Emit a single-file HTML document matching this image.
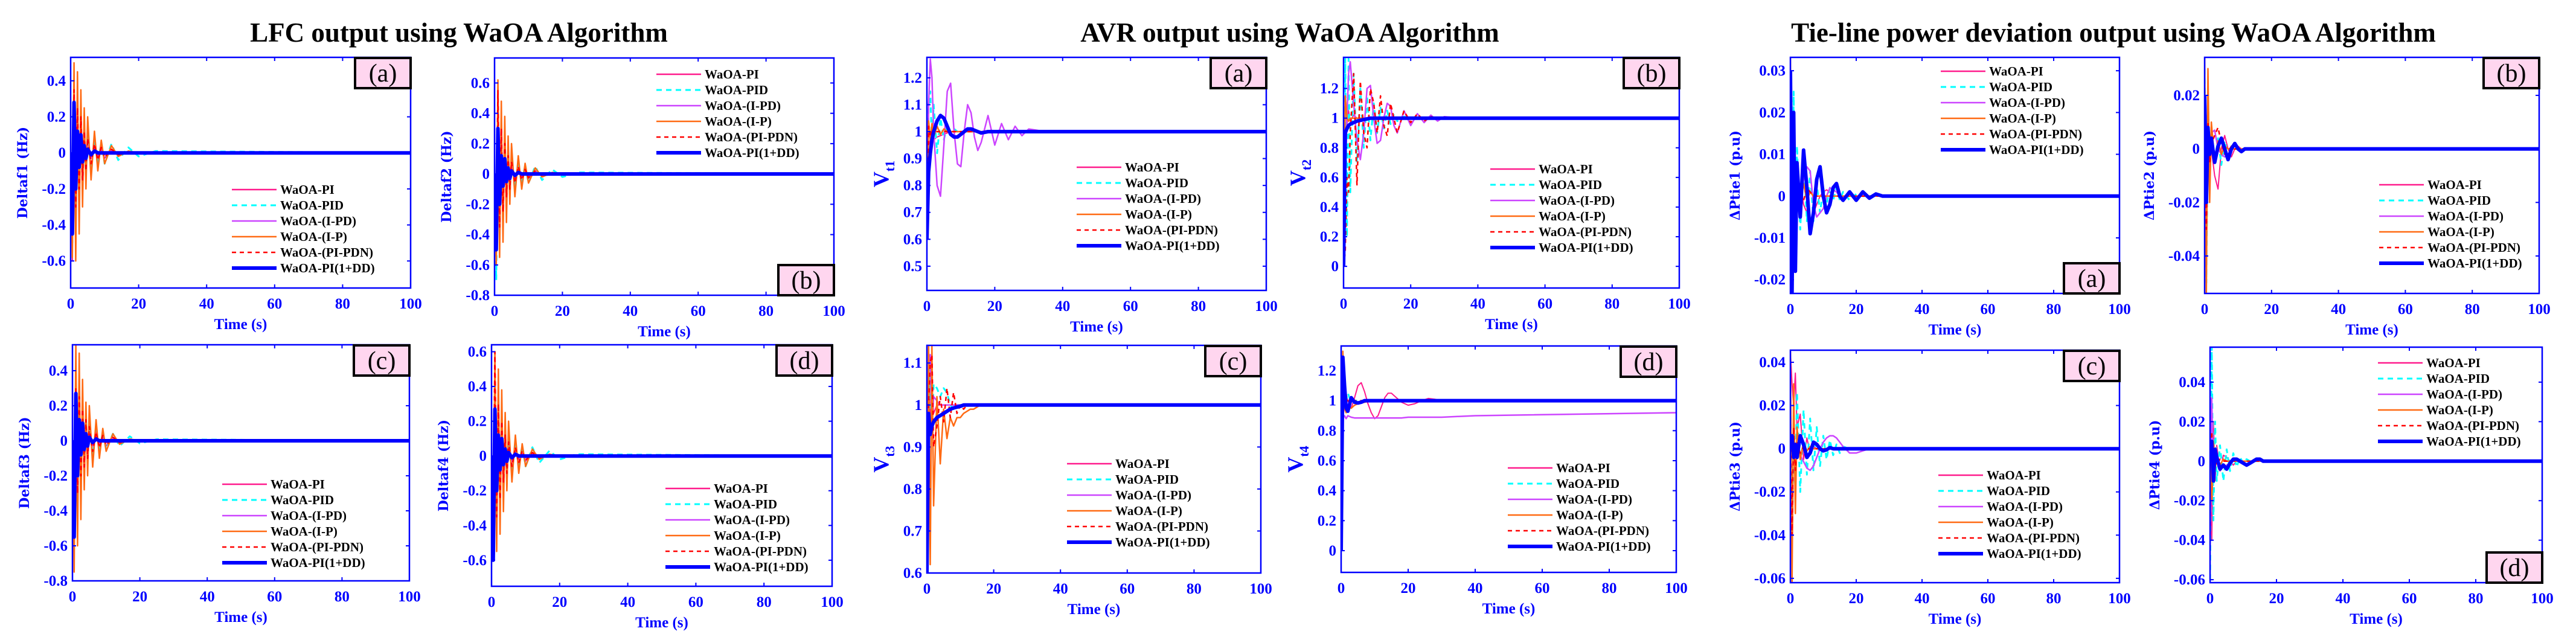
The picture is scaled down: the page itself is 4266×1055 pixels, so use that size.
<!DOCTYPE html>
<html><head><meta charset="utf-8"><title>WaOA outputs</title>
<style>html,body{margin:0;padding:0;background:#fff}svg{display:block}</style></head>
<body>
<svg id="fig" xmlns="http://www.w3.org/2000/svg" width="4266" height="1055" viewBox="0 0 4266 1055">
<rect x="0" y="0" width="4266" height="1055" fill="#fff"/>
<g font-family="Liberation Serif, serif" font-weight="bold" font-size="45" fill="#000" text-anchor="middle">
<text x="760" y="69">LFC output using WaOA Algorithm</text>
<text x="2136" y="69">AVR output using WaOA Algorithm</text>
<text x="3500" y="69">Tie-line power deviation output using WaOA Algorithm</text>
</g>
<g id="plots"></g>
</svg>
<script>
// ---------- DATA ----------
const seriesNames = ["WaOA-PI","WaOA-PID","WaOA-(I-PD)","WaOA-(I-P)","WaOA-(PI-PDN)","WaOA-PI(1+DD)"];
const xTicks = [0,20,40,60,80,100];
const tF = [0,0.5,1,1.5,2,2.5,3,3.5,4,4.5,5,6,7,8,9,10,12,14,17,20,25,100];
const tS = [0,0.5,1,1.5,2,3,4,5,6,7,8,9,10,11,12,13,14,15,16,18,20,22,24,26,28,30,35,40,100];

// LFC area 1
const lfc1PI   =[0,-0.6,0.4,-0.4,0.3,-0.3,0.2,-0.25,0.15,-0.15,0.1,-0.08,0.06,-0.05,0.03,-0.03,0.02,-0.015,0.01,-0.005,0.003,0];
const lfc1PID  =[0,-0.5,0.3,-0.3,0.2,-0.2,0.15,-0.18,0.12,-0.12,0.1,-0.09,0.08,-0.07,0.06,-0.06,0.05,-0.04,0.03,-0.02,0.01,0];
const lfc1IPD  =[0,-0.3,0.2,-0.2,0.15,-0.12,0.1,-0.1,0.06,-0.05,0.04,-0.03,0.02,-0.02,0.015,-0.01,0.01,-0.005,0.003,0,0,0];
const lfc1IP   =[0,-0.58,0.5,-0.6,0.45,-0.45,0.35,-0.3,0.25,-0.2,0.2,-0.15,0.12,-0.1,0.07,-0.06,0.04,-0.02,0.01,0,0,0];
const lfc1PIPDN=[0,-0.4,0.35,-0.3,0.25,-0.2,0.2,-0.15,0.12,-0.1,0.08,-0.06,0.05,-0.04,0.03,-0.025,0.02,-0.01,0.005,0,0,0];
const lfc1PIDD =[0,-0.45,0.28,-0.2,0.12,-0.08,0.1,-0.05,0.04,-0.03,0.02,-0.01,0.01,0,0,0,0,0,0,0,0,0];
// LFC area 2
const lfc2PI   =[0,-0.55,0.5,-0.45,0.35,-0.35,0.25,-0.28,0.2,-0.18,0.12,-0.1,0.07,-0.06,0.04,-0.03,0.02,-0.015,0.01,-0.005,0.003,0];
const lfc2PID  =[0,-0.7,0.3,-0.3,0.22,-0.2,0.15,-0.16,0.12,-0.12,0.1,-0.09,0.08,-0.07,0.06,-0.06,0.05,-0.04,0.03,-0.02,0.01,0];
const lfc2IPD  =[0,-0.3,0.25,-0.2,0.15,-0.12,0.1,-0.1,0.06,-0.05,0.04,-0.03,0.02,-0.02,0.015,-0.01,0.01,-0.005,0.003,0,0,0];
const lfc2IP   =[0,-0.6,0.62,-0.55,0.48,-0.45,0.38,-0.32,0.25,-0.2,0.2,-0.15,0.12,-0.1,0.07,-0.06,0.04,-0.02,0.01,0,0,0];
const lfc2PIPDN=[0,-0.45,0.55,-0.35,0.3,-0.25,0.2,-0.15,0.12,-0.1,0.08,-0.06,0.05,-0.04,0.03,-0.025,0.02,-0.01,0.005,0,0,0];
const lfc2PIDD =[0,-0.5,0.3,-0.2,0.12,-0.08,0.1,-0.05,0.04,-0.03,0.02,-0.01,0.01,0,0,0,0,0,0,0,0,0];
// LFC area 3
const lfc3PI   =[0,-0.62,0.3,-0.4,0.25,-0.3,0.2,-0.22,0.15,-0.15,0.1,-0.08,0.06,-0.05,0.04,-0.03,0.02,-0.015,0.01,-0.005,0.003,0];
const lfc3PID  =[0,-0.5,0.25,-0.3,0.2,-0.2,0.15,-0.15,0.12,-0.1,0.1,-0.08,0.07,-0.06,0.05,-0.05,0.04,-0.03,0.025,-0.015,0.008,0];
const lfc3IPD  =[0,-0.3,0.2,-0.2,0.15,-0.12,0.1,-0.1,0.06,-0.05,0.04,-0.03,0.02,-0.02,0.015,-0.01,0.01,-0.005,0.003,0,0,0];
const lfc3IP   =[0,-0.75,0.55,-0.6,0.5,-0.45,0.35,-0.28,0.22,-0.2,0.2,-0.15,0.12,-0.1,0.07,-0.06,0.04,-0.02,0.01,0,0,0];
const lfc3PIPDN=[0,-0.4,0.3,-0.3,0.25,-0.2,0.18,-0.15,0.12,-0.1,0.08,-0.06,0.05,-0.04,0.03,-0.025,0.02,-0.01,0.005,0,0,0];
const lfc3PIDD =[0,-0.55,0.27,-0.2,0.12,-0.08,0.1,-0.05,0.04,-0.03,0.02,-0.01,0.01,0,0,0,0,0,0,0,0,0];
// LFC area 4
const lfc4PI   =[0,-0.6,0.5,-0.45,0.4,-0.4,0.3,-0.3,0.2,-0.2,0.12,-0.1,0.08,-0.06,0.04,-0.03,0.02,-0.015,0.01,-0.005,0.003,0];
const lfc4PID  =[0,-0.5,0.3,-0.3,0.22,-0.2,0.15,-0.16,0.12,-0.12,0.1,-0.09,0.08,-0.07,0.06,-0.06,0.05,-0.04,0.03,-0.02,0.01,0];
const lfc4IPD  =[0,-0.3,0.2,-0.2,0.15,-0.12,0.1,-0.1,0.06,-0.05,0.04,-0.03,0.02,-0.02,0.015,-0.01,0.01,-0.005,0.003,0,0,0];
const lfc4IP   =[0,-0.6,0.6,-0.55,0.5,-0.45,0.38,-0.32,0.25,-0.2,0.2,-0.15,0.12,-0.1,0.07,-0.06,0.04,-0.02,0.01,0,0,0];
const lfc4PIPDN=[0,-0.45,0.6,-0.35,0.3,-0.25,0.2,-0.15,0.12,-0.1,0.08,-0.06,0.05,-0.04,0.03,-0.025,0.02,-0.01,0.005,0,0,0];
const lfc4PIDD =[0,-0.6,0.27,-0.2,0.12,-0.08,0.1,-0.05,0.04,-0.03,0.02,-0.01,0.01,0,0,0,0,0,0,0,0,0];

// AVR 1
const avr1PI   =[0.6,0.95,0.97,0.96,0.97,0.98,0.985,0.99,0.995,1,1,1,1,1,1,1,1,1,1,1,1,1,1,1,1,1,1,1,1];
const avr1PID  =[0.6,1.1,1.15,0.95,1.1,0.92,1.05,0.97,1.02,0.99,1.01,1,1,1,1,1,1,1,1,1,1,1,1,1,1,1,1,1,1];
const avr1IPD  =[0.6,1.1,1.27,1.2,1.0,0.8,0.76,0.95,1.15,1.18,1.0,0.88,0.87,1.0,1.1,1.07,0.98,0.93,0.96,1.06,0.95,1.03,0.97,1.02,0.985,1.01,1,1,1];
const avr1IP   =[0.6,1.04,0.97,1.03,0.98,1.02,0.99,1.01,1,1,1,1,1,1,1,1,1,1,1,1,1,1,1,1,1,1,1,1,1];
const avr1PIPDN=[0.6,1.02,0.98,1.01,0.99,1.0,1,1,1,1,1,1,1,1,1,1,1,1,1,1,1,1,1,1,1,1,1,1,1];
const avr1PIDD =[0.6,0.85,0.92,0.97,1.0,1.04,1.06,1.05,1.02,0.99,0.98,0.98,0.99,1.0,1.01,1.01,1.005,1.0,0.995,1,1,1,1,1,1,1,1,1,1];
// AVR 2
const avr2PI   =[0,1.1,0.95,1.05,0.98,1.02,1,1,1,1,1,1,1,1,1,1,1,1,1,1,1,1,1,1,1,1,1,1,1];
const avr2PID  =[0,1.4,0.2,1.4,0.5,1.3,0.7,1.2,0.8,1.15,0.85,1.1,0.9,1.07,0.93,1.05,0.96,1.03,0.98,1.01,1,1,1,1,1,1,1,1,1];
const avr2IPD  =[0,0.6,1.0,1.3,1.38,1.1,0.85,0.72,0.9,1.2,1.22,1.0,0.83,0.85,1.0,1.1,1.08,0.95,0.9,1.05,0.95,1.03,0.97,1.02,0.98,1.01,1,1,1];
const avr2IP   =[0,1.15,1.0,0.98,1.0,1,1,1,1,1,1,1,1,1,1,1,1,1,1,1,1,1,1,1,1,1,1,1,1];
const avr2PIPDN=[0,0.1,0.6,0.5,0.9,1.3,0.55,1.25,0.9,0.8,1.2,1.1,0.9,1.15,0.95,0.88,1.1,1.0,0.9,1.05,0.97,1.03,0.98,1.01,1,1,1,1,1];
const avr2PIDD =[0,0.9,0.93,0.95,0.96,0.97,0.98,0.985,0.99,0.995,1,1,1,1,1,1,1,1,1,1,1,1,1,1,1,1,1,1,1];
// AVR 3
const avr3PI   =[0.6,1.14,0.95,1.05,0.98,1.0,1,1,1,1,1,1,1,1,1,1,1,1,1,1,1,1,1,1,1,1,1,1,1];
const avr3PID  =[0.6,0.85,1.1,0.95,1.05,1.04,1.02,1.04,1.03,1.0,0.99,1.0,1,1,1,1,1,1,1,1,1,1,1,1,1,1,1,1,1];
const avr3IPD  =[0.6,1.1,1.12,0.95,1.02,1.01,1.0,1,1,1,1,1,1,1,1,1,1,1,1,1,1,1,1,1,1,1,1,1,1];
const avr3IP   =[0.6,1.14,0.62,1.14,0.76,1.02,0.86,0.99,0.92,0.97,0.95,0.97,0.97,0.98,0.985,0.99,0.99,0.995,1,1,1,1,1,1,1,1,1,1,1];
const avr3PIPDN=[0.6,1.0,1.1,1.12,0.9,0.95,1.02,0.96,1.04,0.97,1.03,0.98,1.0,0.99,1.0,1,1,1,1,1,1,1,1,1,1,1,1,1,1];
const avr3PIDD =[0.6,0.98,0.93,0.95,0.96,0.97,0.975,0.98,0.985,0.99,0.993,0.995,0.997,1,1,1,1,1,1,1,1,1,1,1,1,1,1,1,1];
// AVR 4
const avr4PI   =[0,0.85,1.0,1.05,1.0,0.95,1.02,1.1,1.12,1.06,0.98,0.92,0.88,0.9,0.96,1.02,1.05,1.05,1.03,0.99,0.97,0.98,1.0,1.015,1.01,1.0,1,1,1];
const avr4PID  =[0,1.0,0.95,1.0,1.05,0.99,1.0,1,1,1,1,1,1,1,1,1,1,1,1,1,1,1,1,1,1,1,1,1,1];
const avr4IPD  =[0,0.88,0.9,0.88,0.9,0.89,0.885,0.885,0.885,0.885,0.885,0.885,0.885,0.885,0.885,0.885,0.885,0.885,0.885,0.885,0.89,0.89,0.89,0.89,0.89,0.89,0.895,0.9,0.92];
const avr4IP   =[0,1.33,0.95,0.92,0.96,0.95,0.97,0.98,0.985,0.99,0.995,1,1,1,1,1,1,1,1,1,1,1,1,1,1,1,1,1,1];
const avr4PIPDN=[0,1.05,0.97,1.0,1,1,1,1,1,1,1,1,1,1,1,1,1,1,1,1,1,1,1,1,1,1,1,1,1];
const avr4PIDD =[0,1.29,1.1,0.95,0.93,1.02,0.99,0.985,0.99,1,1,1,1,1,1,1,1,1,1,1,1,1,1,1,1,1,1,1,1];

// Tie 1
const tie1PI   =[0.032,-0.015,0.01,-0.005,0.002,0.003,-0.002,-0.004,-0.006,-0.004,-0.002,0,0.001,0.0015,0.001,0,0,0,0,0,0,0,0,0,0,0,0,0,0];
const tie1PID  =[0.03,-0.02,0.025,-0.018,0.012,-0.008,0.01,-0.006,0.006,-0.006,0.003,-0.004,0.002,-0.002,0.002,-0.001,0.002,-0.001,0.001,-0.001,0.0005,0,0,0,0,0,0,0,0];
const tie1IPD  =[0.03,-0.01,0.008,-0.004,0.002,-0.003,0.004,0.007,0.006,-0.002,-0.005,-0.004,-0.003,0,0.002,0.0015,0.001,0,0,0,0,0,0,0,0,0,0,0,0];
const tie1IP   =[0.033,-0.015,0.02,-0.005,0.005,-0.002,0.003,-0.001,0.001,0,0,0,0,0,0,0,0,0,0,0,0,0,0,0,0,0,0,0,0];
const tie1PIPDN=[0.02,-0.01,0.008,-0.004,0.002,0.001,-0.001,0.002,0.001,0,0,0,0,0,0,0,0,0,0,0,0,0,0,0,0,0,0,0,0];
const tie1PIDD =[0.03,-0.023,0.02,-0.018,0.008,-0.005,0.011,0.002,-0.009,-0.004,0.004,0.007,0,-0.004,-0.002,0.002,0.003,0,-0.001,0.001,-0.001,0.001,-0.0005,0.0005,0,0,0,0,0];
// Tie 2
const tie2PI   =[0,-0.02,0.01,-0.005,0,-0.01,-0.015,0,0.005,0,-0.003,0,0.001,0,0,0,0,0,0,0,0,0,0,0,0,0,0,0,0];
const tie2PID  =[0.03,-0.05,0.02,-0.01,0.005,-0.005,0.004,-0.006,0.003,-0.003,0.001,0,0,0,0,0,0,0,0,0,0,0,0,0,0,0,0,0,0];
const tie2IPD  =[0,-0.01,0.005,0,0.006,0.007,0,-0.002,-0.003,-0.002,0,0,0,0,0,0,0,0,0,0,0,0,0,0,0,0,0,0,0];
const tie2IP   =[0.034,-0.054,0.03,-0.02,0.01,-0.005,0.003,-0.002,0.001,0,0,0,0,0,0,0,0,0,0,0,0,0,0,0,0,0,0,0,0];
const tie2PIPDN=[0,-0.03,0.01,-0.005,0.002,0.005,0.008,0.002,-0.002,-0.001,0.001,0,0,0,0,0,0,0,0,0,0,0,0,0,0,0,0,0,0];
const tie2PIDD =[0.02,-0.02,0.008,-0.002,0.004,-0.005,0.001,0.004,0.0,-0.004,0,0.002,0,-0.001,0,0,0,0,0,0,0,0,0,0,0,0,0,0,0];
// Tie 3
const tie3PI   =[0.045,0.03,0.02,0.035,0.01,0.016,-0.005,0.005,-0.002,0.001,0,0,0,0,0,0,0,0,0,0,0,0,0,0,0,0,0,0,0];
const tie3PID  =[0.02,-0.045,0.01,-0.02,0.026,-0.02,0.018,-0.012,0.014,-0.01,0.01,-0.008,0.006,-0.005,0.004,-0.003,0.002,-0.002,0.001,0,0,0,0,0,0,0,0,0,0];
const tie3IPD  =[0,0.002,-0.003,0.001,0.002,-0.003,-0.006,-0.009,-0.01,-0.008,-0.004,0,0.003,0.005,0.006,0.006,0.005,0.003,0.001,-0.002,-0.002,-0.001,0,0,0,0,0,0,0];
const tie3IP   =[0.045,-0.062,0.03,-0.03,0.01,-0.005,0.003,-0.001,0.001,0,0,0,0,0,0,0,0,0,0,0,0,0,0,0,0,0,0,0,0];
const tie3PIPDN=[0.015,-0.04,0.01,-0.01,0.003,-0.002,0.001,0,0,0,0,0,0,0,0,0,0,0,0,0,0,0,0,0,0,0,0,0,0];
const tie3PIDD =[0,0.006,-0.004,0.002,-0.004,0.006,0.002,-0.004,-0.002,0.003,0.002,0,-0.001,-0.0005,0.0005,0,0,0,0,0,0,0,0,0,0,0,0,0,0];
// Tie 4
const tie4PI   =[0.04,-0.04,0.02,-0.01,0.008,-0.005,0.003,0.002,0,-0.002,0,0,0,0,0,0,0,0,0,0,0,0,0,0,0,0,0,0,0];
const tie4PID  =[-0.06,0.058,-0.03,0.02,-0.01,0.008,-0.01,0.006,-0.005,0.004,-0.003,0.002,-0.001,0.001,0,0,0,0,0,0,0,0,0,0,0,0,0,0,0];
const tie4IPD  =[-0.045,0.032,-0.01,0.005,0,-0.002,-0.003,-0.002,-0.001,0,0,0,0,0,0,0,0,0,0,0,0,0,0,0,0,0,0,0,0];
const tie4IP   =[0,-0.02,0.01,-0.005,0.003,-0.002,0.001,0,0,0,0,0,0,0,0,0,0,0,0,0,0,0,0,0,0,0,0,0,0];
const tie4PIPDN=[0,0.015,-0.01,0.005,-0.002,0.001,0,0,0,0,0,0,0,0,0,0,0,0,0,0,0,0,0,0,0,0,0,0,0];
const tie4PIDD =[0,0.01,-0.01,0.006,0.002,-0.004,-0.002,-0.004,-0.001,0.001,0.001,0,-0.001,-0.002,-0.001,0,0.001,0.001,0,0,0,0,0,0,0,0,0,0,0];

const lfc1Ticks=["-0.6","-0.4","-0.2","0","0.2","0.4"];
const lfc2Ticks=["-0.8","-0.6","-0.4","-0.2","0","0.2","0.4","0.6"];
const lfc3Ticks=["-0.8","-0.6","-0.4","-0.2","0","0.2","0.4"];
const lfc4Ticks=["-0.6","-0.4","-0.2","0","0.2","0.4","0.6"];
const avr1Ticks=["0.5","0.6","0.7","0.8","0.9","1","1.1","1.2"];
const avr2Ticks=["0","0.2","0.4","0.6","0.8","1","1.2"];
const avr3Ticks=["0.6","0.7","0.8","0.9","1","1.1"];
const avr4Ticks=["0","0.2","0.4","0.6","0.8","1","1.2"];
const tie1Ticks=["-0.02","-0.01","0","0.01","0.02","0.03"];
const tie2Ticks=["-0.04","-0.02","0","0.02"];
const tie3Ticks=["-0.06","-0.04","-0.02","0","0.02","0.04"];
const tie4Ticks=["-0.06","-0.04","-0.02","0","0.02","0.04"];

// ---------- STYLE / LAYOUT ----------
const styles=[
 {c:"#ff1a8c",w:2,d:""},
 {c:"#00ffff",w:3,d:"9,7"},
 {c:"#cc44ff",w:2.5,d:""},
 {c:"#ff6a13",w:2.5,d:""},
 {c:"#ff0000",w:2.5,d:"7,6"},
 {c:"#0000ff",w:6,d:""}
];
const panels=[
 {id:"lfc1",x0:117,x1:680,y0:95,y1:477,ymin:-0.75,ymax:0.53,t:tF,s:[lfc1PI,lfc1PID,lfc1IPD,lfc1IP,lfc1PIPDN,lfc1PIDD],ticks:lfc1Ticks,lab:"(a)",lb:"tr",lg:[384,314],yl:"Deltaf1 (Hz)"},
 {id:"lfc2",x0:819,x1:1381,y0:96,y1:489,ymin:-0.8,ymax:0.765,t:tF,s:[lfc2PI,lfc2PID,lfc2IPD,lfc2IP,lfc2PIPDN,lfc2PIDD],ticks:lfc2Ticks,lab:"(b)",lb:"br",lg:[1087,123],yl:"Deltaf2 (Hz)"},
 {id:"lfc3",x0:120,x1:678,y0:571,y1:962,ymin:-0.8,ymax:0.548,t:tF,s:[lfc3PI,lfc3PID,lfc3IPD,lfc3IP,lfc3PIPDN,lfc3PIDD],ticks:lfc3Ticks,lab:"(c)",lb:"tr",lg:[368,802],yl:"Deltaf3 (Hz)"},
 {id:"lfc4",x0:814,x1:1378,y0:571,y1:971,ymin:-0.75,ymax:0.64,t:tF,s:[lfc4PI,lfc4PID,lfc4IPD,lfc4IP,lfc4PIPDN,lfc4PIDD],ticks:lfc4Ticks,lab:"(d)",lb:"tr",lg:[1102,809],yl:"Deltaf4 (Hz)"},
 {id:"avr1",x0:1535,x1:2097,y0:95,y1:481,ymin:0.41,ymax:1.276,t:tS,s:[avr1PI,avr1PID,avr1IPD,avr1IP,avr1PIPDN,avr1PIDD],ticks:avr1Ticks,lab:"(a)",lb:"tr",lg:[1783,277],v:"t1"},
 {id:"avr2",x0:2225,x1:2781,y0:95,y1:477,ymin:-0.146,ymax:1.41,t:tS,s:[avr2PI,avr2PID,avr2IPD,avr2IP,avr2PIPDN,avr2PIDD],ticks:avr2Ticks,lab:"(b)",lb:"tr",lg:[2468,280],v:"t2"},
 {id:"avr3",x0:1535,x1:2088,y0:572,y1:949,ymin:0.6,ymax:1.142,t:tS,s:[avr3PI,avr3PID,avr3IPD,avr3IP,avr3PIPDN,avr3PIDD],ticks:avr3Ticks,lab:"(c)",lb:"tr",lg:[1767,768],v:"t3"},
 {id:"avr4",x0:2221,x1:2776,y0:573,y1:948,ymin:-0.145,ymax:1.365,t:tS,s:[avr4PI,avr4PID,avr4IPD,avr4IP,avr4PIPDN,avr4PIDD],ticks:avr4Ticks,lab:"(d)",lb:"tr",lg:[2497,775],v:"t4"},
 {id:"tie1",x0:2965,x1:3510,y0:95,y1:486,ymin:-0.0233,ymax:0.0332,t:tS,s:[tie1PI,tie1PID,tie1IPD,tie1IP,tie1PIPDN,tie1PIDD],ticks:tie1Ticks,lab:"(a)",lb:"br",lg:[3214,118],yl:"\u0394Ptie1 (p.u)"},
 {id:"tie2",x0:3651,x1:4205,y0:95,y1:486,ymin:-0.054,ymax:0.0342,t:tS,s:[tie2PI,tie2PID,tie2IPD,tie2IP,tie2PIPDN,tie2PIDD],ticks:tie2Ticks,lab:"(b)",lb:"tr",lg:[3940,306],yl:"\u0394Ptie2 (p.u)"},
 {id:"tie3",x0:2965,x1:3510,y0:580,y1:965,ymin:-0.062,ymax:0.0456,t:tS,s:[tie3PI,tie3PID,tie3IPD,tie3IP,tie3PIPDN,tie3PIDD],ticks:tie3Ticks,lab:"(c)",lb:"tr",lg:[3210,787],yl:"\u0394Ptie3 (p.u)"},
 {id:"tie4",x0:3660,x1:4210,y0:575,y1:965,ymin:-0.0615,ymax:0.0577,t:tS,s:[tie4PI,tie4PID,tie4IPD,tie4IP,tie4PIPDN,tie4PIDD],ticks:tie4Ticks,lab:"(d)",lb:"br",lg:[3938,601],yl:"\u0394Ptie4 (p.u)"}
];

const NS="http://www.w3.org/2000/svg";
const root=document.getElementById("plots");
function mk(tag,attrs,parent){const e=document.createElementNS(NS,tag);for(const k in attrs)e.setAttribute(k,attrs[k]);parent.appendChild(e);return e;}

panels.forEach(p=>{
  const g=mk("g",{},root);
  
  
  const xs=t=>p.x0+(t/100)*(p.x1-p.x0);
  const ys=v=>p.y1-(v-p.ymin)/(p.ymax-p.ymin)*(p.y1-p.y0);
  const cp=mk("clipPath",{id:"clip-"+p.id},g);
  mk("rect",{x:p.x0,y:p.y0,width:p.x1-p.x0,height:p.y1-p.y0},cp);
  const sg=mk("g",{"clip-path":"url(#clip-"+p.id+")"},g);
  p.s.forEach((arr,i)=>{
    const pts=[];
    const n=Math.min(arr.length,p.t.length);
    for(let k=0;k<n;k++)pts.push(xs(p.t[k]).toFixed(1)+","+ys(arr[k]).toFixed(1));
    if(p.t[n-1]<100)pts.push(xs(100).toFixed(1)+","+ys(arr[n-1]).toFixed(1));
    const st=styles[i];
    const pl=mk("polyline",{points:pts.join(" "),fill:"none",stroke:st.c,"stroke-width":st.w,"stroke-dasharray":st.d,"stroke-linejoin":"round"},sg);
    
    
  });
  const box=mk("rect",{x:p.x0,y:p.y0,width:p.x1-p.x0,height:p.y1-p.y0,fill:"none",stroke:"#0000ff","stroke-width":2.5},g);
  
  
  xTicks.forEach(v=>{
    const x=xs(v);
    mk("line",{x1:x,y1:p.y1,x2:x,y2:p.y1-6,stroke:"#0000ff","stroke-width":2},g);
    mk("line",{x1:x,y1:p.y0,x2:x,y2:p.y0+6,stroke:"#0000ff","stroke-width":2},g);
    const tx=mk("text",{x:x,y:p.y1+34,"text-anchor":"middle","font-family":"Liberation Serif, serif","font-weight":"bold","font-size":25,fill:"#0000ff"},g);
    tx.textContent=String(v);
    
    
  });
  const xl=mk("text",{x:(p.x0+p.x1)/2,y:p.y1+68,"text-anchor":"middle","font-family":"Liberation Serif, serif","font-weight":"bold","font-size":25,fill:"#0000ff"},g);
  xl.textContent="Time (s)";
  
  
  p.ticks.forEach(s=>{
    const y=ys(parseFloat(s));
    mk("line",{x1:p.x1,y1:y,x2:p.x1-6,y2:y,stroke:"#0000ff","stroke-width":2},g);
    mk("line",{x1:p.x0,y1:y,x2:p.x0+6,y2:y,stroke:"#0000ff","stroke-width":2},g);
    const ty=mk("text",{x:p.x0-8,y:y+8,"text-anchor":"end","font-family":"Liberation Serif, serif","font-weight":"bold","font-size":25,fill:"#0000ff"},g);
    ty.textContent=s;
    
    
  });
  const cy=(p.y0+p.y1)/2;
  if(p.v){
    const lx=p.x0-64;
    const yt=mk("text",{transform:"translate("+lx+","+cy+") rotate(-90)","text-anchor":"middle","font-family":"Liberation Serif, serif","font-weight":"bold","font-size":36,fill:"#0000ff"},g);
    
    
    const a=mk("tspan",{},yt);a.textContent="V";
    const b=mk("tspan",{"font-size":22,dy:10},yt);b.textContent=p.v;
  } else {
    const off=p.id.startsWith("tie")?-84:-72;
    const yt=mk("text",{transform:"translate("+(p.x0+off)+","+cy+") rotate(-90)","text-anchor":"middle","font-family":"DejaVu Serif, serif","font-weight":"bold","font-size":22,fill:"#0000ff"},g);
    yt.textContent=p.yl;
    
    
  }
  const bw=92,bh=50;
  const bx=p.x1-bw, by=(p.lb==="tr")?p.y0+1:p.y1-bh;
  const lbg=mk("g",{},g);
  
  
  mk("rect",{x:bx,y:by,width:bw,height:bh,fill:"#ffd6ef",stroke:"#000","stroke-width":4},lbg);
  const lt=mk("text",{x:bx+bw/2,y:by+bh/2+14,"text-anchor":"middle","font-family":"Liberation Serif, serif","font-size":42,fill:"#000"},lbg);
  lt.textContent=p.lab;
  const lgG=mk("g",{},g);
  
  
  seriesNames.forEach((nm,i)=>{
    const ly=p.lg[1]+i*26;
    const st=styles[i];
    const ent=mk("g",{},lgG);
    
    
    mk("line",{x1:p.lg[0],y1:ly,x2:p.lg[0]+74,y2:ly,stroke:st.c,"stroke-width":Math.max(st.w,2.5),"stroke-dasharray":st.d},ent);
    const tt=mk("text",{x:p.lg[0]+80,y:ly+7,"font-family":"Liberation Serif, serif","font-weight":"bold","font-size":21,fill:"#000"},ent);
    tt.textContent=nm;
  });
});
</script>
</body></html>
